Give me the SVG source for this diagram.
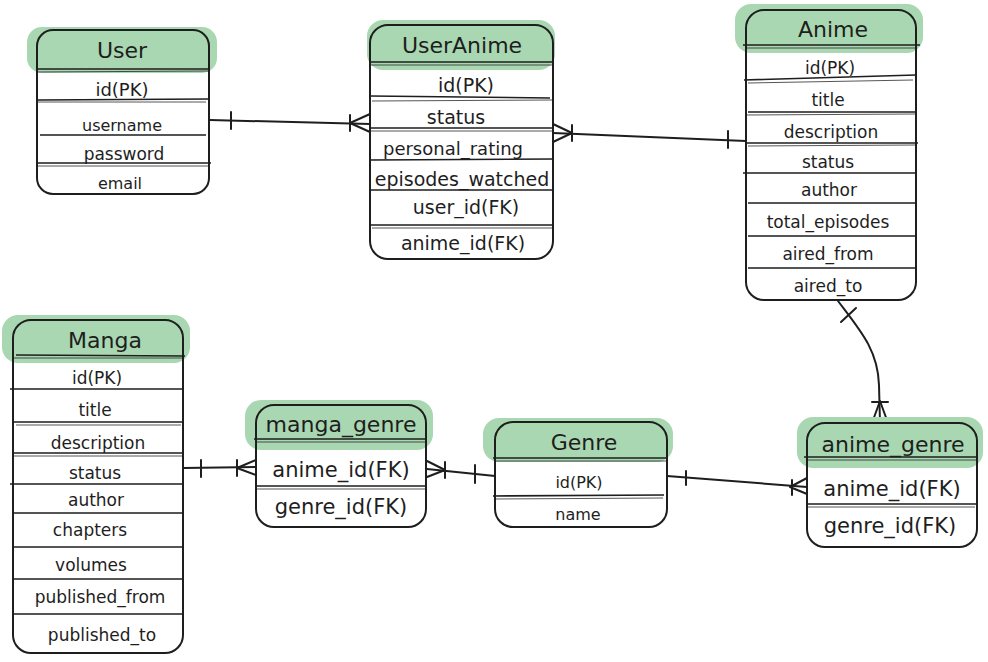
<svg xmlns="http://www.w3.org/2000/svg" width="988" height="662" viewBox="0 0 988 662">
  <style>
    .bg { fill: #ffffff; }
    .body { fill: #ffffff; stroke: none; }
    .hl { fill: #a9d7b1; }
    .frame { fill: none; stroke: #1e1e1e; stroke-width: 2; }
    .sep { stroke: #1e1e1e; stroke-width: 1.6; fill: none; }
    .sep2 { stroke: #1e1e1e; stroke-width: 1; fill: none; opacity: 0.75; }
    .link { stroke: #1e1e1e; stroke-width: 2; fill: none; stroke-linecap: round; stroke-linejoin: round; }
    text { font-family: "DejaVu Sans", "Noto Sans", sans-serif; fill: #1e1e1e; text-anchor: middle; dominant-baseline: central; }
    .title { font-size: 22px; }
    .f16 { font-size: 16px; }
    .f17 { font-size: 17px; }
    .f18 { font-size: 18px; }
    .f19 { font-size: 19px; }
    .f21 { font-size: 21px; }
  </style>

  <rect class="bg" x="0" y="0" width="988" height="662"/>

  <!-- relationship lines -->
  <g id="connectors">
    <!-- User 1 : N UserAnime -->
    <path class="link" d="M210,120 L370,124"/>
    <path class="link" d="M231,112 L231,129"/>
    <path class="link" d="M370,114 L350,123 L370,132 M350,115 L350,131"/>
    <!-- UserAnime N : 1 Anime -->
    <path class="link" d="M553,133 L746,141"/>
    <path class="link" d="M553,124 L572,133 L553,142 M572,125 L572,141"/>
    <path class="link" d="M728,131 L728,148"/>
    <!-- Anime 1 : N anime_genre -->
    <path class="link" d="M838,301 C860,330 878,350 879,385 L880,423"/>
    <path class="link" d="M841,322 L856,308"/>
    <path class="link" d="M872,423 L880,401 L888,423 M872,402 L888,402"/>
    <!-- Genre 1 : N anime_genre -->
    <path class="link" d="M667,476 L807,487"/>
    <path class="link" d="M686,471 L686,485"/>
    <path class="link" d="M807,478 L790,487 L807,494 M792,480 L792,495"/>
    <!-- manga_genre N : 1 Genre -->
    <path class="link" d="M427,469 L495,476"/>
    <path class="link" d="M427,461 L445,470 L427,477 M445,462 L445,478"/>
    <path class="link" d="M475,465 L475,483"/>
    <!-- Manga 1 : N manga_genre -->
    <path class="link" d="M183,468 L256,467"/>
    <path class="link" d="M201,460 L201,477"/>
    <path class="link" d="M256,460 L237,468 L256,475 M237,460 L237,476"/>
  </g>

  <!-- User -->
  <g id="user">
    <rect class="body" x="37" y="30" width="172" height="164" rx="16"/>
    <rect class="hl" x="27" y="27" width="190" height="46" rx="15"/>
    <rect class="frame" x="37" y="30" width="172" height="164" rx="16"/>
    <path class="sep" d="M37,69 L209,69 M38,100 L209,99 M40,135 L206,135 M37,163 L211,163"/>
    <path class="sep2" d="M38,72 L208,71 M37,102 L206,102 M38,166 L208,166"/>
    <text class="title" x="122" y="50">User</text>
    <text class="f18" x="122" y="89">id(PK)</text>
    <text class="f16" x="122" y="125">username</text>
    <text class="f17" x="124" y="154">password</text>
    <text class="f16" x="120" y="183">email</text>
  </g>

  <!-- UserAnime -->
  <g id="useranime">
    <rect class="body" x="370" y="25" width="183" height="234" rx="18"/>
    <rect class="hl" x="367" y="20" width="188" height="50" rx="16"/>
    <rect class="frame" x="370" y="25" width="183" height="234" rx="18"/>
    <path class="sep" d="M370,62 L553,62 M370,96 L550,98 M370,128 L553,128 M370,160 L553,159 M370,190 L553,190 M370,225 L553,225"/>
    <path class="sep2" d="M371,65 L552,65 M372,101 L553,100 M371,131 L552,131 M372,228 L552,228"/>
    <text class="title" x="462" y="45">UserAnime</text>
    <text class="f19" x="466" y="85">id(PK)</text>
    <text class="f19" x="456" y="117">status</text>
    <text class="f18" x="453" y="148">personal_rating</text>
    <text class="f19" x="462" y="179">episodes_watched</text>
    <text class="f19" x="466" y="207">user_id(FK)</text>
    <text class="f19" x="463" y="243">anime_id(FK)</text>
  </g>

  <!-- Anime -->
  <g id="anime">
    <rect class="body" x="746" y="10" width="170" height="290" rx="18"/>
    <rect class="hl" x="735" y="4" width="188" height="49" rx="16"/>
    <rect class="frame" x="746" y="10" width="170" height="290" rx="18"/>
    <path class="sep" d="M743,45 L920,45 M744,80 L916,75 M748,112 L916,112 M746,143 L918,143 M743,173 L916,173 M748,203 L916,203 M748,236 L916,236 M748,268 L916,268"/>
    <path class="sep2" d="M746,48 L916,48 M748,83 L913,80 M746,115 L916,114 M748,146 L916,145"/>
    <text class="title" x="833" y="29">Anime</text>
    <text class="f17" x="830" y="68">id(PK)</text>
    <text class="f17" x="828" y="100">title</text>
    <text class="f17" x="831" y="132">description</text>
    <text class="f17" x="828" y="162">status</text>
    <text class="f17" x="829" y="190">author</text>
    <text class="f17" x="828" y="222">total_episodes</text>
    <text class="f17" x="828" y="254">aired_from</text>
    <text class="f17" x="828" y="286">aired_to</text>
  </g>

  <!-- Manga -->
  <g id="manga">
    <rect class="body" x="13" y="320" width="170" height="333" rx="18"/>
    <rect class="hl" x="2" y="315" width="188" height="48" rx="16"/>
    <rect class="frame" x="13" y="320" width="170" height="333" rx="18"/>
    <path class="sep" d="M16,355 L185,356 M10,389 L183,389 M13,422 L183,422 M13,453 L183,453 M10,484 L183,484 M13,513 L183,513 M13,547 L183,547 M13,579 L183,579 M13,614 L183,614"/>
    <path class="sep2" d="M13,358 L183,358 M16,425 L181,425 M13,456 L183,456"/>
    <text class="title" x="105" y="340">Manga</text>
    <text class="f17" x="97" y="378">id(PK)</text>
    <text class="f17" x="95" y="410">title</text>
    <text class="f17" x="98" y="443">description</text>
    <text class="f17" x="95" y="473">status</text>
    <text class="f17" x="96" y="500">author</text>
    <text class="f17" x="90" y="530">chapters</text>
    <text class="f17" x="91" y="565">volumes</text>
    <text class="f17" x="100" y="597">published_from</text>
    <text class="f17" x="102" y="635">published_to</text>
  </g>

  <!-- manga_genre -->
  <g id="manga_genre">
    <rect class="body" x="256" y="405" width="170" height="122" rx="18"/>
    <rect class="hl" x="245" y="400" width="188" height="50" rx="16"/>
    <rect class="frame" x="256" y="405" width="170" height="122" rx="18"/>
    <path class="sep" d="M254,439 L426,439 M256,486 L426,486"/>
    <path class="sep2" d="M256,442 L426,442 M256,489 L425,489"/>
    <text class="title" x="341" y="424">manga_genre</text>
    <text class="f21" x="341" y="470">anime_id(FK)</text>
    <text class="f21" x="341" y="507">genre_id(FK)</text>
  </g>

  <!-- Genre -->
  <g id="genre">
    <rect class="body" x="495" y="422" width="172" height="105" rx="18"/>
    <rect class="hl" x="483" y="418" width="190" height="44" rx="16"/>
    <rect class="frame" x="495" y="422" width="172" height="105" rx="18"/>
    <path class="sep" d="M493,458 L667,458 M493,496 L664,495"/>
    <path class="sep2" d="M495,461 L666,461 M495,499 L663,498"/>
    <text class="title" x="584" y="442">Genre</text>
    <text class="f16" x="579" y="482">id(PK)</text>
    <text class="f16" x="578" y="514">name</text>
  </g>

  <!-- anime_genre -->
  <g id="anime_genre">
    <rect class="body" x="807" y="423" width="170" height="124" rx="18"/>
    <rect class="hl" x="797" y="417" width="186" height="51" rx="16"/>
    <rect class="frame" x="807" y="423" width="170" height="124" rx="18"/>
    <path class="sep" d="M804,457 L978,457 M808,504 L976,504"/>
    <path class="sep2" d="M807,460 L977,460 M807,507 L975,507"/>
    <text class="title" x="893" y="444">anime_genre</text>
    <text class="f21" x="892" y="489">anime_id(FK)</text>
    <text class="f21" x="890" y="526">genre_id(FK)</text>
  </g>
</svg>
